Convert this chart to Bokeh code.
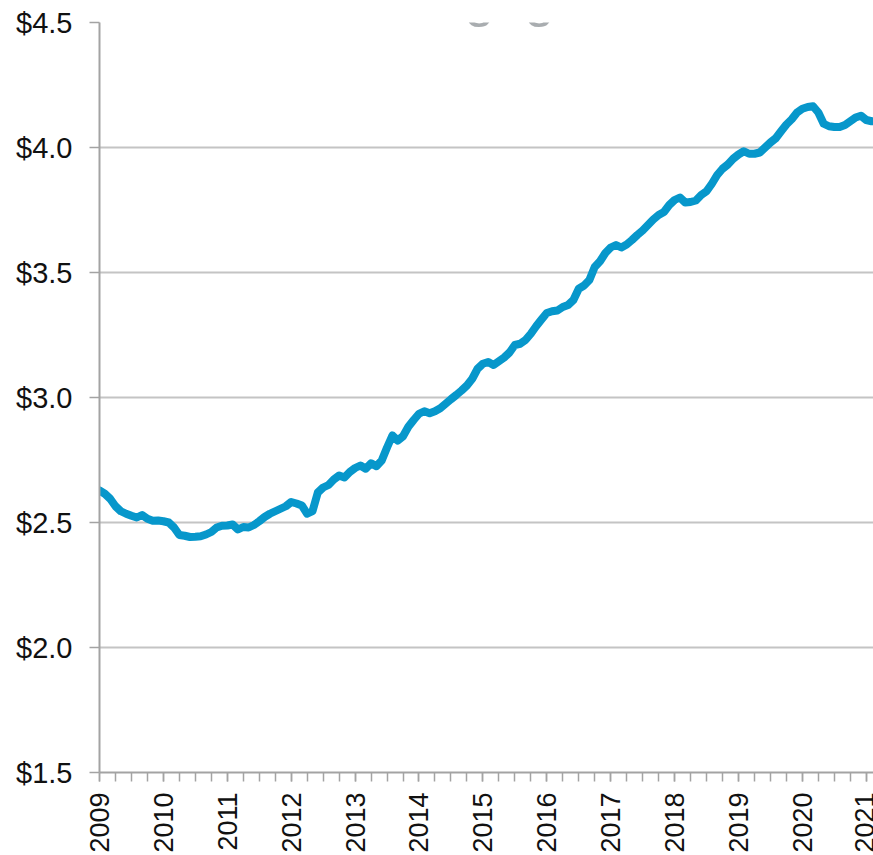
import math
from bokeh.plotting import figure
from bokeh.models import Range1d, FixedTicker, PrintfTickFormatter, Label
from bokeh.embed import file_html
from bokeh.resources import INLINE

# ---- data (monthly, starting Jan 2009) ----
start_year = 2009
values = [
    2.628, 2.615, 2.595, 2.565, 2.545, 2.535, 2.527, 2.520, 2.530, 2.515, 2.507, 2.508,
    2.505, 2.500, 2.480, 2.450, 2.447, 2.442, 2.443, 2.445, 2.452, 2.462, 2.480, 2.487,
    2.488, 2.492, 2.472, 2.482, 2.480, 2.490, 2.505, 2.522, 2.535, 2.545, 2.555, 2.565,
    2.582, 2.576, 2.568, 2.535, 2.545, 2.620, 2.640, 2.650, 2.672, 2.688, 2.680, 2.702,
    2.718, 2.728, 2.715, 2.737, 2.725, 2.748, 2.800, 2.848, 2.828, 2.845, 2.883, 2.910,
    2.935, 2.945, 2.937, 2.945, 2.957, 2.975, 2.993, 3.010, 3.028, 3.048, 3.075, 3.115,
    3.135, 3.142, 3.130, 3.145, 3.160, 3.180, 3.210, 3.215, 3.230, 3.255, 3.285, 3.312,
    3.338, 3.345, 3.348, 3.362, 3.370, 3.390, 3.435, 3.448, 3.470, 3.522, 3.545, 3.578,
    3.600, 3.610, 3.600, 3.612, 3.630, 3.650, 3.668, 3.690, 3.712, 3.730, 3.742, 3.770,
    3.790, 3.800, 3.780, 3.782, 3.788, 3.810, 3.825, 3.855, 3.890, 3.915, 3.932, 3.955,
    3.972, 3.985, 3.975, 3.975, 3.980, 4.000, 4.020, 4.037, 4.065, 4.092, 4.113, 4.140,
    4.155, 4.162, 4.165, 4.140, 4.095, 4.085, 4.082, 4.082, 4.090, 4.105, 4.120, 4.127,
    4.110, 4.105, 4.105,
]
months = [start_year + i / 12 for i in range(len(values))]

year_ticks = list(range(2009, 2022))
year_labels = [str(y) for y in year_ticks]
quarter_ticks = [2009 + k * 0.25 for k in range(0, 49)]
y_ticks = [1.5, 2.0, 2.5, 3.0, 3.5, 4.0, 4.5]
title_text = "Mortgage"

FONT = "Liberation Sans"
LINE_COLOR = "#0797cb"
GRID_COLOR = "#c4c4c4"
AXIS_COLOR = "#a3a3a3"

H = 885
FRAME_H = 750
p = figure(
    width=873, height=H,
    output_backend="svg", toolbar_location=None, title=None,
    x_range=Range1d(2009, 2021.113), y_range=Range1d(1.5, 4.5),
    min_border_left=99, min_border_right=0, min_border_top=52, min_border_bottom=83,
    margin=(-30, 0, 0, 0),
)
p.outline_line_color = None
p.background_fill_color = "white"
p.border_fill_color = "white"

p.line(months, values, line_color=LINE_COLOR, line_width=8,
       line_join="round", line_cap="round")

# x axis
xa = p.xaxis[0]
xa.ticker = FixedTicker(ticks=year_ticks, minor_ticks=quarter_ticks)
xa.major_label_overrides = {y: lab for y, lab in zip(year_ticks, year_labels)}
xa.major_label_orientation = math.pi / 2
xa.major_label_text_font = FONT
xa.major_label_text_font_size = "27px"
xa.major_label_text_color = "#111111"
xa.major_label_standoff = 11
xa.axis_line_color = AXIS_COLOR
xa.axis_line_width = 2
xa.major_tick_line_color = AXIS_COLOR
xa.minor_tick_line_color = AXIS_COLOR
xa.major_tick_line_width = 1.5
xa.minor_tick_line_width = 1.5
xa.major_tick_out = 9
xa.major_tick_in = 0
xa.minor_tick_out = 9
xa.minor_tick_in = 0
p.xgrid.visible = False

# y axis
ya = p.yaxis[0]
ya.ticker = FixedTicker(ticks=y_ticks, minor_ticks=[])
ya.formatter = PrintfTickFormatter(format="$%.1f")
ya.major_label_text_font = FONT
ya.major_label_text_font_size = "29px"
ya.major_label_text_color = "#111111"
ya.major_label_standoff = 17
ya.axis_line_color = AXIS_COLOR
ya.axis_line_width = 2
ya.major_tick_line_color = AXIS_COLOR
ya.major_tick_line_width = 1.5
ya.major_tick_out = 10
ya.major_tick_in = 0
ya.minor_tick_line_color = None
p.ygrid.ticker = FixedTicker(ticks=y_ticks)
p.ygrid.grid_line_color = GRID_COLOR
p.ygrid.grid_line_width = 2

# clipped title (only descenders visible at the top edge); screen units are frame-relative
p.add_layout(Label(
    x=257, y=FRAME_H + 26, x_units="screen", y_units="screen",
    text=title_text, text_font=FONT, text_font_size="54px",
    text_color="#a9adb0", text_baseline="alphabetic", text_align="left",
))

open("out.html", "w").write(file_html(p, INLINE))
